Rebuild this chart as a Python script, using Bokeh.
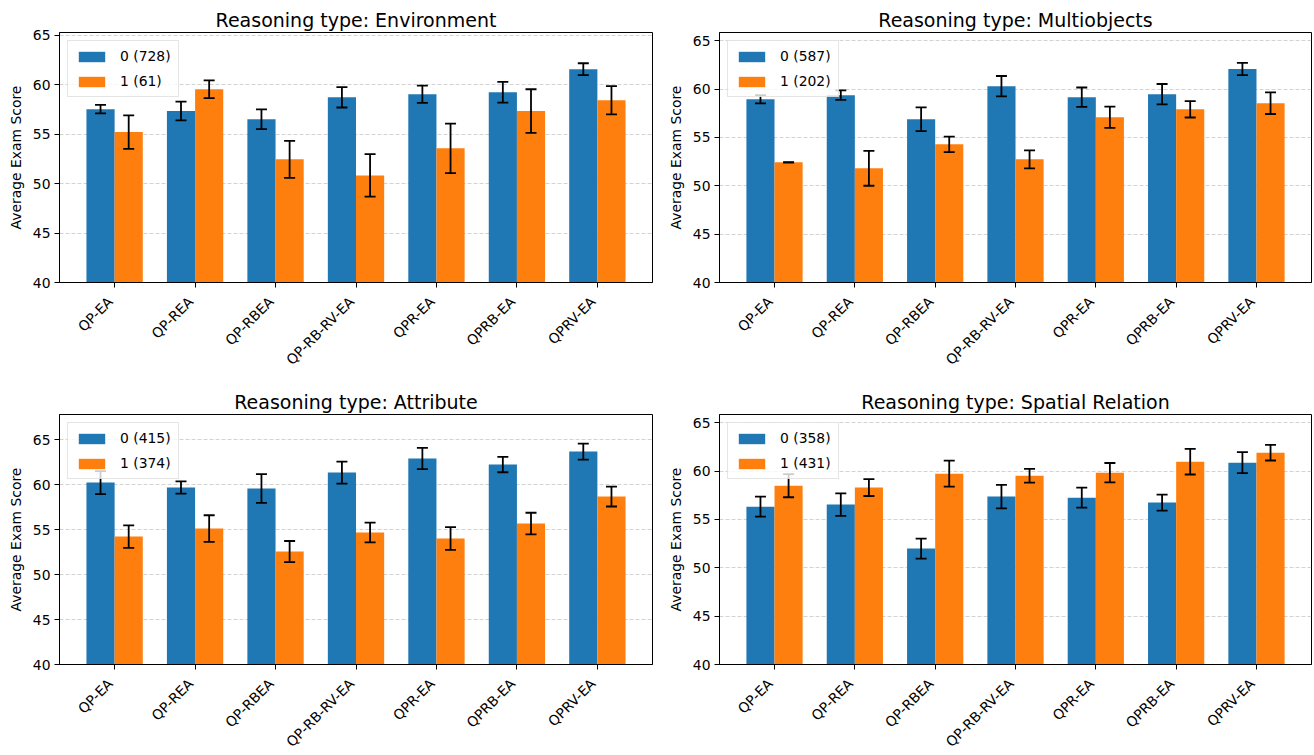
import math
from bokeh.plotting import figure
from bokeh.models import (ColumnDataSource, Whisker, TeeHead, Legend, LegendItem,
                          FixedTicker, SingleIntervalTicker, Range1d, Label)
from bokeh.layouts import column, row
from bokeh.embed import file_html
from bokeh.resources import INLINE

methods = ["QP-EA", "QP-REA", "QP-RBEA", "QP-RB-RV-EA", "QPR-EA", "QPRB-EA", "QPRV-EA"]

# Environment
env_n = [728, 61]
env_mean0 = [57.52, 57.33, 56.5, 58.72, 59.03, 59.23, 61.56]
env_err0 = [0.43, 0.95, 1.0, 1.03, 0.87, 1.05, 0.6]
env_mean1 = [55.2, 59.53, 52.45, 50.82, 53.56, 57.33, 58.42]
env_err1 = [1.7, 0.9, 1.87, 2.15, 2.5, 2.2, 1.43]

# Multiobjects
mo_n = [587, 202]
mo_mean0 = [58.95, 59.37, 56.88, 60.3, 59.16, 59.47, 62.07]
mo_err0 = [0.43, 0.5, 1.23, 1.05, 1.0, 1.05, 0.64]
mo_mean1 = [52.42, 51.8, 54.28, 52.73, 57.09, 57.91, 58.54]
mo_err1 = [0.03, 1.8, 0.8, 0.93, 1.1, 0.85, 1.12]

# Attribute
at_n = [415, 374]
at_mean0 = [60.22, 59.67, 59.56, 61.33, 62.89, 62.22, 63.67]
at_err0 = [1.28, 0.68, 1.6, 1.22, 1.18, 0.85, 0.89]
at_mean1 = [54.22, 55.11, 52.56, 54.67, 54.0, 55.67, 58.67]
at_err1 = [1.25, 1.48, 1.17, 1.1, 1.26, 1.2, 1.11]

# Spatial Relation
sr_n = [358, 431]
sr_mean0 = [56.32, 56.53, 51.98, 57.36, 57.25, 56.74, 60.87]
sr_err0 = [1.03, 1.17, 1.03, 1.22, 1.03, 0.83, 1.08]
sr_mean1 = [58.49, 58.29, 59.73, 59.52, 59.83, 60.97, 61.9]
sr_err1 = [1.2, 0.87, 1.35, 0.71, 1.0, 1.33, 0.81]

panels = [
    ("Environment", env_n, env_mean0, env_err0, env_mean1, env_err1),
    ("Multiobjects", mo_n, mo_mean0, mo_err0, mo_mean1, mo_err1),
    ("Attribute", at_n, at_mean0, at_err0, at_mean1, at_err1),
    ("Spatial Relation", sr_n, sr_mean0, sr_err0, sr_mean1, sr_err1),
]

BLUE = "#1f77b4"
ORANGE = "#ff7f0e"
FONT = "DejaVu Sans"
FS = "13.9px"
W = 0.35
YMIN = 40

FRAME_H = 250
LABEL_H = [90, 79]  # height of the strip holding the rotated category labels, per row


def make_panel(idx, title, n, m0, e0, m1, e1):
    col = idx % 2
    rw = idx // 2
    left = 59 if col == 0 else 63
    right = 4 if col == 0 else 1
    fw = 593 if col == 0 else 592
    ymax = 1.05 * max(max(a + b for a, b in zip(m0, e0)), max(a + b for a, b in zip(m1, e1)))
    xr = Range1d(-0.685, 6.685)
    p = figure(frame_width=fw, frame_height=FRAME_H,
               x_range=xr, y_range=Range1d(YMIN, ymax),
               output_backend="svg", toolbar_location=None,
               min_border_left=left, min_border_right=right,
               min_border_top=32, min_border_bottom=10,
               title="Reasoning type: " + title)
    p.title.text_font = FONT
    p.title.text_font_size = "19px"
    p.title.text_font_style = "normal"
    p.title.text_color = "black"
    p.title.align = "center"
    p.title.standoff = 3
    p.background_fill_color = "white"
    p.border_fill_color = "white"
    p.outline_line_color = "black"
    p.outline_line_width = 1

    xs = list(range(len(methods)))
    s0 = ColumnDataSource(dict(x=[x - W / 2 for x in xs], top=m0,
                               lower=[a - b for a, b in zip(m0, e0)],
                               upper=[a + b for a, b in zip(m0, e0)]))
    s1 = ColumnDataSource(dict(x=[x + W / 2 for x in xs], top=m1,
                               lower=[a - b for a, b in zip(m1, e1)],
                               upper=[a + b for a, b in zip(m1, e1)]))
    r0 = p.vbar(x="x", top="top", bottom=0, width=W, source=s0,
                fill_color=BLUE, line_color=None)
    r1 = p.vbar(x="x", top="top", bottom=0, width=W, source=s1,
                fill_color=ORANGE, line_color=None)
    for s in (s0, s1):
        wk = Whisker(source=s, base="x", lower="lower", upper="upper",
                     dimension="height", line_color="black", line_width=1.8,
                     upper_head=TeeHead(size=11, line_color="black", line_width=1.8),
                     lower_head=TeeHead(size=11, line_color="black", line_width=1.8))
        wk.level = "annotation"
        p.add_layout(wk)

    # axes
    p.xaxis.ticker = FixedTicker(ticks=xs)
    p.xaxis.major_label_overrides = {i: "" for i in xs}
    p.yaxis.ticker = SingleIntervalTicker(interval=5, num_minor_ticks=0)
    for ax in (p.xaxis[0], p.yaxis[0]):
        ax.major_label_text_font = FONT
        ax.major_label_text_font_size = FS
        ax.major_label_text_color = "black"
        ax.axis_line_color = "black"
        ax.major_tick_line_color = "black"
        ax.major_tick_out = 5
        ax.major_tick_in = 0
        ax.minor_tick_line_color = None
        ax.major_label_standoff = 4
    p.xaxis.major_label_standoff = 0
    p.xaxis.major_label_text_font_size = "0px"
    p.yaxis.axis_label = "Average Exam Score"
    p.yaxis.axis_label_text_font = FONT
    p.yaxis.axis_label_text_font_size = FS
    p.yaxis.axis_label_text_font_style = "normal"
    p.yaxis.axis_label_text_color = "black"
    p.yaxis.axis_label_standoff = 6

    p.xgrid.grid_line_color = None
    p.ygrid.grid_line_color = "#b0b0b0"
    p.ygrid.grid_line_alpha = 0.7
    p.ygrid.grid_line_dash = "4 2"
    p.ygrid.grid_line_width = 0.8

    legend = Legend(items=[LegendItem(label=f"0 ({n[0]})", renderers=[r0]),
                           LegendItem(label=f"1 ({n[1]})", renderers=[r1])],
                    location="top_left")
    legend.margin = 8
    legend.padding = 7
    legend.spacing = 9
    legend.glyph_width = 33
    legend.glyph_height = 13
    legend.label_height = 14
    legend.label_standoff = 12
    legend.label_text_font = FONT
    legend.label_text_font_size = FS
    legend.label_text_color = "black"
    legend.border_line_color = "#cccccc"
    legend.border_line_width = 1
    legend.background_fill_color = "white"
    legend.background_fill_alpha = 0.8
    p.add_layout(legend)

    # strip under the axes with the rotated tick labels (right-aligned, 45 degrees)
    lh = LABEL_H[rw]
    q = figure(frame_width=fw, frame_height=lh, x_range=xr, y_range=Range1d(0, 1),
               x_axis_type=None, y_axis_type=None,
               output_backend="svg", toolbar_location=None,
               min_border_left=left, min_border_right=right,
               min_border_top=0, min_border_bottom=0)
    q.outline_line_color = None
    q.background_fill_color = "white"
    q.border_fill_color = "white"
    q.xgrid.visible = False
    q.ygrid.visible = False
    for xi, name in zip(xs, methods):
        lab = Label(x=xi, y=lh - 1, x_units="data", y_units="screen", text=name,
                    angle=math.pi / 4, text_align="right", text_baseline="top",
                    x_offset=-10,
                    text_font=FONT, text_font_size=FS, text_color="black")
        q.add_layout(lab)
    return p, q


built = [make_panel(i, *panels[i]) for i in range(4)]
layout = column(row(built[0][0], built[1][0]), row(built[0][1], built[1][1]),
                row(built[2][0], built[3][0]), row(built[2][1], built[3][1]))

open("out.html", "w").write(file_html(layout, INLINE))
